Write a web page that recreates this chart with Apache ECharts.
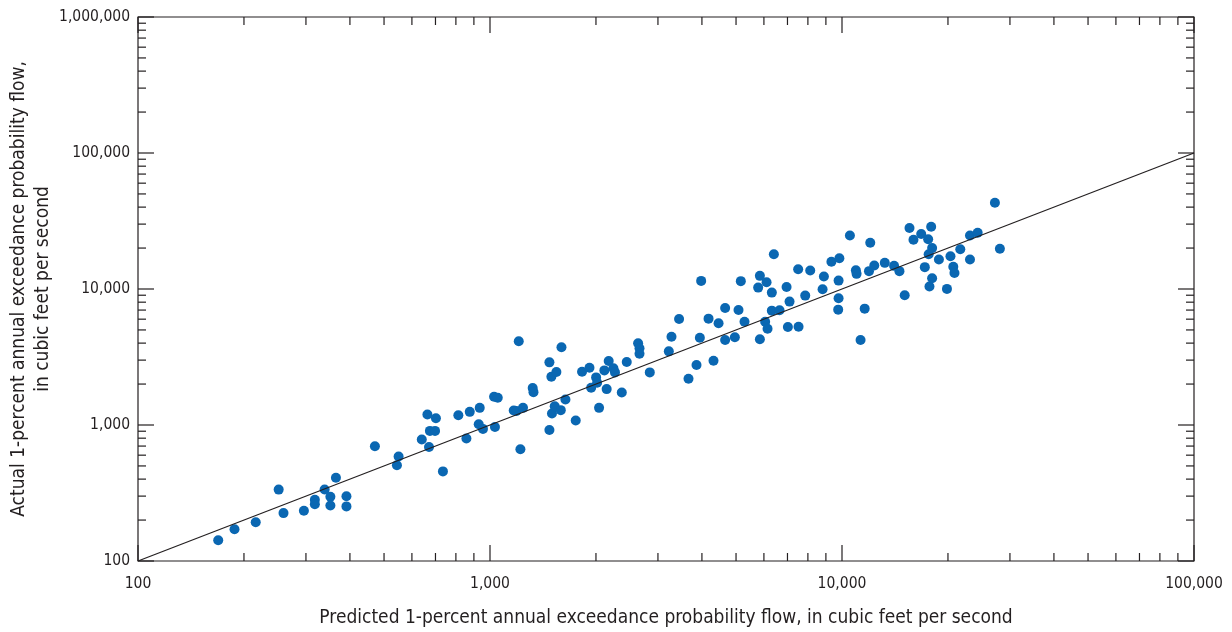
<!DOCTYPE html>
<html>
<head>
<meta charset="utf-8">
<script src="https://cdn.jsdelivr.net/npm/echarts@6/dist/echarts.min.js"></script>
<style>
html,body{margin:0;padding:0;background:#fff;}
#chart{width:1232px;height:632px;}
</style>
</head>
<body>
<div id="chart"></div>
<script>
// Predicted 1-percent AEP flow (cfs)
const predicted = [169,188,216,251,259,296,318,318,339,352,352,365,391,391,471,544,550,640,664,671,675,698,702,735,813,857,876,935,929,955,1033,1027,1052,1168,1189,1241,1207,1220,1322,1329,1475,1494,1544,1596,1475,1500,1527,1589,1638,1752,1826,1917,1938,2002,2015,2041,2113,2145,2174,2242,2265,2368,2446,2635,2659,2659,2844,3221,3278,3445,3664,3861,3946,3980,4177,4315,4460,4656,4656,4961,5082,5159,5285,5844,5779,5844,6105,6049,6144,6319,6319,6646,6959,7019,7096,7507,7526,7862,8123,8807,8883,9331,9779,9779,9754,9830,6404,10530,10950,11000,11290,11600,11930,12030,12350,13230,14060,14560,15070,15550,15960,16790,17190,17570,17720,18030,18030,17630,17920,18850,19870,20330,20710,20870,21680,23100,23100,24290,27190,28090];
// Actual 1-percent AEP flow (cfs)
const actual = [142,171,193,335,225,234,282,261,336,297,256,410,299,252,698,506,586,782,1195,690,905,905,1122,456,1181,795,1249,1337,1014,936,968,1611,1584,1279,1270,1337,4124,663,1867,1744,2888,2262,2450,3725,920,1215,1375,1286,1541,1079,2462,2635,1877,2239,2043,1337,2521,1836,2953,2609,2437,1735,2903,3986,3662,3342,2437,3480,4460,6022,2187,2758,4385,11470,6053,2968,5598,7257,4217,4415,7015,11420,5752,12490,10240,4266,11220,5752,5107,9408,6931,6979,10360,5256,8078,13990,5283,8942,13660,9966,12340,15840,11530,8555,7050,16810,17990,24750,13710,12920,4217,7172,13530,21860,14880,15570,14800,13530,9001,28060,23010,25340,14480,23210,10420,12010,19980,17990,28680,16470,10020,17390,14560,13100,19580,16470,24710,25900,43100,19750];
// 1:1 line endpoints
const lineX = [100, 100000];
const lineY = [100, 100000];
// Axis extents and tick values
const xMin = 100, xMax = 100000;
const yMin = 100, yMax = 1000000;
const xMajorTicks = [100, 1000, 10000, 100000];
const xMinorTicks = [200,300,400,500,600,700,800,900,2000,3000,4000,5000,6000,7000,8000,9000,20000,30000,40000,50000,60000,70000,80000,90000];
const yMajorTicks = [100, 1000, 10000, 100000, 1000000];
const yMinorTicks = [200,300,400,500,600,700,800,900,2000,3000,4000,5000,6000,7000,8000,9000,20000,30000,40000,50000,60000,70000,80000,90000,200000,300000,400000,500000,600000,700000,800000,900000];
const xTitle = 'Predicted 1-percent annual exceedance probability flow, in cubic feet per second';
const yTitle = 'Actual 1-percent annual exceedance probability flow,\nin cubic feet per second';

const FONT = "'Liberation Sans Narrow','Arial Narrow','DejaVu Sans Condensed',sans-serif";
const INK = '#231f20';
const fmt = v => String(Math.round(v)).replace(/\B(?=(\d{3})+(?!\d))/g, ',');

const points = predicted.map((p, i) => [p, actual[i]]);
const oneToOne = lineX.map((x, i) => [x, lineY[i]]);

function xTickSeries(values, len) {
  return {
    type: 'custom', silent: true, z: 5, clip: false,
    data: values.map(v => [v, yMin]),
    renderItem: function (params, api) {
      const v = api.value(0);
      const b = api.coord([v, yMin]);
      const t = api.coord([v, yMax]);
      const st = { stroke: INK, lineWidth: 1.2 };
      return { type: 'group', children: [
        { type: 'line', shape: { x1: b[0], y1: b[1], x2: b[0], y2: b[1] - len }, style: st },
        { type: 'line', shape: { x1: t[0], y1: t[1], x2: t[0], y2: t[1] + len }, style: st }
      ]};
    }
  };
}
function yTickSeries(values, len) {
  return {
    type: 'custom', silent: true, z: 5, clip: false,
    data: values.map(v => [xMin, v]),
    renderItem: function (params, api) {
      const v = api.value(1);
      const l = api.coord([xMin, v]);
      const r = api.coord([xMax, v]);
      const st = { stroke: INK, lineWidth: 1.2 };
      return { type: 'group', children: [
        { type: 'line', shape: { x1: l[0], y1: l[1], x2: l[0] + len, y2: l[1] }, style: st },
        { type: 'line', shape: { x1: r[0], y1: r[1], x2: r[0] - len, y2: r[1] }, style: st }
      ]};
    }
  };
}

const chart = echarts.init(document.getElementById('chart'), null, { renderer: 'canvas' });
chart.setOption({
  animation: false,
  backgroundColor: '#ffffff',
  textStyle: { fontFamily: FONT, color: INK },
  grid: { left: 138, right: 38, top: 17, bottom: 71, show: true, borderColor: INK, borderWidth: 1.2, backgroundColor: 'transparent', containLabel: false, outerBoundsMode: 'none' },
  xAxis: {
    type: 'log', logBase: 10, min: xMin, max: xMax,
    axisLine: { show: false },
    axisTick: { show: false },
    splitLine: { show: false },
    axisLabel: { show: true, color: INK, fontFamily: FONT, fontSize: 15.5, margin: 15, formatter: fmt },
    name: xTitle, nameLocation: 'middle', nameGap: 48, nameMoveOverlap: false,
    nameTextStyle: { fontFamily: FONT, fontSize: 19, color: INK }
  },
  yAxis: {
    type: 'log', logBase: 10, min: yMin, max: yMax,
    axisLine: { show: false },
    axisTick: { show: false },
    splitLine: { show: false },
    axisLabel: { show: true, color: INK, fontFamily: FONT, fontSize: 15.5, margin: 8, formatter: fmt },
    name: yTitle, nameLocation: 'middle', nameGap: 83, nameRotate: 90, nameMoveOverlap: false,
    nameTextStyle: { fontFamily: FONT, fontSize: 19, color: INK, lineHeight: 24, align: 'center' }
  },
  series: [
    xTickSeries(xMajorTicks, 16),
    xTickSeries(xMinorTicks, 8),
    yTickSeries(yMajorTicks, 16),
    yTickSeries(yMinorTicks, 8),
    {
      type: 'scatter', data: points, symbol: 'circle', symbolSize: 10, z: 3,
      itemStyle: { color: '#0a67b2', opacity: 1 }
    },
    {
      type: 'line', data: oneToOne, showSymbol: false, symbol: 'none', z: 4,
      lineStyle: { color: INK, width: 1.2 }, silent: true
    }
  ]
});
</script>
</body>
</html>
